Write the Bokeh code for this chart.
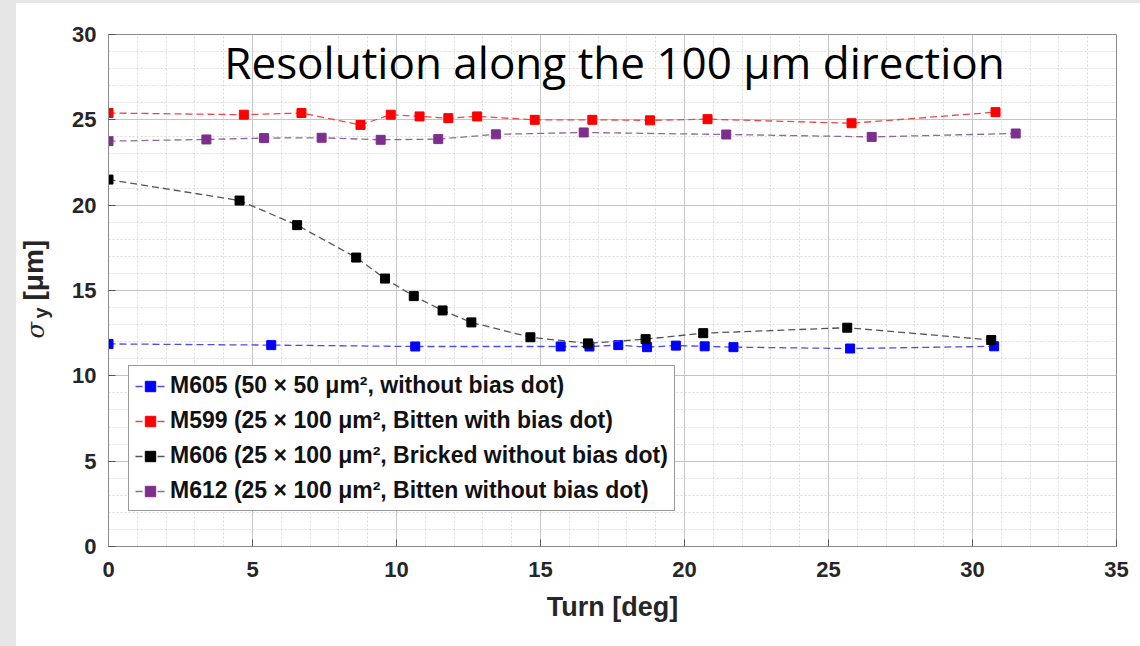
from math import pi
from bokeh.plotting import figure
from bokeh.models import Range1d, SingleIntervalTicker, Label, Legend, LegendItem
from bokeh.layouts import row, column
from bokeh.core.properties import value
from bokeh.embed import file_html
from bokeh.resources import INLINE

# ---- data ----
m605_x = [0, 5.65, 10.65, 15.7, 16.7, 17.7, 18.7, 19.7, 20.7, 21.7, 25.75, 30.75]
m605_y = [11.87, 11.8, 11.72, 11.72, 11.72, 11.8, 11.68, 11.77, 11.73, 11.68, 11.6, 11.73]

m599_x = [0, 4.7, 6.7, 8.75, 9.8, 10.8, 11.8, 12.8, 14.8, 16.8, 18.8, 20.8, 25.8, 30.8]
m599_y = [25.4, 25.3, 25.4, 24.7, 25.3, 25.2, 25.1, 25.2, 25.0, 25.0, 24.97, 25.04, 24.8, 25.45]

m606_x = [0, 4.55, 6.55, 8.6, 9.6, 10.6, 11.6, 12.6, 14.65, 16.65, 18.65, 20.65, 25.65, 30.65]
m606_y = [21.5, 20.27, 18.83, 16.93, 15.7, 14.67, 13.83, 13.13, 12.26, 11.9, 12.15, 12.5, 12.82, 12.1]

m612_x = [0, 3.4, 5.4, 7.4, 9.45, 11.45, 13.45, 16.5, 21.45, 26.5, 31.5]
m612_y = [23.75, 23.85, 23.93, 23.95, 23.83, 23.87, 24.15, 24.26, 24.14, 24.0, 24.2]

legend_labels = [
    "M605 (50 × 50 μm², without bias dot)",
    "M599 (25 × 100 μm², Bitten with bias dot)",
    "M606 (25 × 100 μm², Bricked without bias dot)",
    "M612 (25 × 100 μm², Bitten without bias dot)",
]
marker_colors = ["#0000ff", "#ff0000", "#000000", "#7e2f8e"]
line_colors = ["#4c4ce6", "#e84a4a", "#555555", "#8e6a98"]

title_text = "Resolution along the 100 μm direction"
x_label = "Turn [deg]"
y_label_parts = ["σ", "y", "[μm]"]
x_ticks_interval = 5
y_ticks_interval = 5

FONT = "Liberation Sans"
TXT = "#262626"

# ---- main plot ----
p = figure(width=1077, height=643, output_backend="svg", toolbar_location=None,
           x_range=Range1d(0, 35), y_range=Range1d(0, 30),
           min_border_left=45, min_border_right=24, min_border_top=31, min_border_bottom=100,
           margin=0)
p.background_fill_color = "white"
p.border_fill_color = "white"
p.outline_line_color = "#8c8c8c"
p.outline_line_width = 1

for ax, interval in ((p.xaxis[0], x_ticks_interval), (p.yaxis[0], y_ticks_interval)):
    ax.ticker = SingleIntervalTicker(interval=interval, num_minor_ticks=5)
    ax.major_label_text_font = FONT
    ax.major_label_text_font_style = "bold"
    ax.major_label_text_font_size = "22px"
    ax.major_label_text_color = TXT
    ax.axis_line_color = "#8c8c8c"
    ax.major_tick_line_color = "#555555"
    ax.major_tick_in = 7
    ax.major_tick_out = 0
    ax.minor_tick_line_color = None

p.xaxis.major_label_standoff = 11
p.yaxis.major_label_standoff = 8
p.xaxis.axis_label = x_label
p.xaxis.axis_label_text_font = FONT
p.xaxis.axis_label_text_font_style = "bold"
p.xaxis.axis_label_text_font_size = "27px"
p.xaxis.axis_label_text_color = TXT
p.xaxis.axis_label_standoff = 12

for g in (p.xgrid[0], p.ygrid[0]):
    g.grid_line_color = "#c4c4c4"
    g.grid_line_width = 1
    g.minor_grid_line_color = "#dadada"
    g.minor_grid_line_dash = "2 2"
    g.minor_grid_line_width = 1

series = [(m605_x, m605_y), (m599_x, m599_y), (m606_x, m606_y), (m612_x, m612_y)]
items = []
for (xs, ys), mc, lc, lab in zip(series, marker_colors, line_colors, legend_labels):
    r1 = p.line(xs, ys, line_color=lc, line_width=1.3, line_dash="7 4")
    r2 = p.scatter(xs, ys, marker="square", size=9, fill_color=mc, line_color=mc)
    items.append(LegendItem(label=lab, renderers=[r1, r2]))

legend = Legend(items=items, location=(20, 35))
legend.label_text_font = FONT
legend.label_text_font_style = "bold"
legend.label_text_font_size = "23px"
legend.label_text_color = "#111111"
legend.glyph_width = 30
legend.glyph_height = 26
legend.label_height = 26
legend.spacing = 8
legend.padding = 6
legend.margin = 0
legend.label_standoff = 5
legend.border_line_color = "#333333"
legend.border_line_width = 1
legend.background_fill_alpha = 1
p.add_layout(legend, "center")

# title inside the plot area
p.add_layout(Label(x=17.57, y=28.4, text=title_text, text_align="center",
                   text_baseline="alphabetic", text_font="Open Sans",
                   text_font_size="44px", text_color="#000000"))

# ---- narrow strip holding the y-axis label (sigma_y [um]); same vertical scale as p ----
q = figure(width=47, height=643, output_backend="svg", toolbar_location=None,
           x_range=Range1d(0, 47), y_range=p.y_range,
           x_axis_location=None, y_axis_location=None,
           min_border_left=0, min_border_right=0, min_border_top=31, min_border_bottom=100,
           margin=0)
q.grid.visible = False
q.outline_line_color = None
q.background_fill_color = "white"
q.border_fill_color = "white"
q.text(x=[19], y=[12.19], text=[y_label_parts[0]], angle=pi / 2, text_align="left",
       text_baseline="alphabetic", text_font=value("DejaVu Serif"),
       text_font_style="italic", text_font_size="24px", text_color=TXT)
q.text(x=[24], y=[13.36], text=[y_label_parts[1]], angle=pi / 2, text_align="left",
       text_baseline="alphabetic", text_font=value(FONT),
       text_font_style="bold", text_font_size="20px", text_color=TXT)
q.text(x=[17], y=[14.41], text=[y_label_parts[2]], angle=pi / 2, text_align="left",
       text_baseline="alphabetic", text_font=value(FONT),
       text_font_style="bold", text_font_size="28px", text_color=TXT)

inner = row(q, p, margin=(3, 0, 0, 16), styles={"background-color": "white"})
layout = column(inner, styles={"background-color": "#e6e6e6"})
open("out.html", "w").write(file_html(layout, INLINE))
